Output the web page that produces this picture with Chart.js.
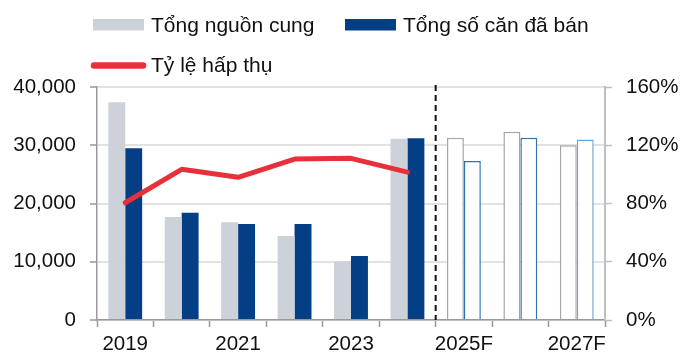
<!DOCTYPE html>
<html>
<head>
<meta charset="utf-8">
<script src="https://cdn.jsdelivr.net/npm/chart.js@4/dist/chart.umd.min.js"></script>
<style>
  html, body { margin: 0; padding: 0; background: #fff; }
  canvas { display: block; }
</style>
</head>
<body>
<canvas id="myChart" width="680" height="354"></canvas>
<script>
const years = ["2019", "2020", "2021", "2022", "2023", "2024", "2025F", "2026F", "2027F"]
const supply = [37400, 17700, 16800, 14400, 10100, 31100, 31300, 32300, 30000]
const sold = [29500, 18400, 16500, 16500, 11000, 31200, 27300, 31300, 31000]
const absorption = [80.5, 103.5, 98, 110.5, 111, 101.5, null, null, null]
const leftTicks = [0, 10000, 20000, 30000, 40000]
const rightTicks = [0, 40, 80, 120, 160]
const firstForecast = 6

const grey = '#cdd1d9'
const navy = '#043e85'
const red = '#e8303a'
const axisFont = { family: 'Liberation Sans, Arial, sans-serif', size: 20.5 }

// actual years filled, forecast years as outlines
const isForecast = years.map((y, i) => i >= firstForecast)
const supplyFill = isForecast.map(f => f ? '#ffffff' : grey)
const supplyBorder = isForecast.map(f => f ? '#a6a6a6' : grey)
const soldFill = isForecast.map(f => f ? '#ffffff' : navy)
const soldBorder = years.map((y, i) => i >= firstForecast ? (i == years.length - 1 ? '#6aa7dc' : '#2f73b5') : navy)
const borderW = isForecast.map(f => f ? 1.5 : 0)

const forecastDivider = {
    id: 'forecastDivider',
    afterDatasetsDraw(chart) {
        const x = chart.scales.x
        const area = chart.chartArea
        const px = (x.getPixelForValue(firstForecast - 1) + x.getPixelForValue(firstForecast)) / 2
        const ctx = chart.ctx
        ctx.save()
        ctx.strokeStyle = '#111'
        ctx.lineWidth = 2
        ctx.setLineDash([6, 4])
        ctx.beginPath()
        ctx.moveTo(px, area.top - 2)
        ctx.lineTo(px, area.bottom)
        ctx.stroke()
        ctx.restore()
    }
}

// legend laid out in two rows like the original
const twoRowLegend = {
    id: 'twoRowLegend',
    afterDraw(chart) {
        const ctx = chart.ctx
        const ds = chart.data.datasets
        const slots = [
            { x: 93, y: 31.5, w: 51 },
            { x: 345, y: 31.5, w: 51 },
            { x: 93, y: 72, w: 51 }
        ]
        ctx.save()
        ctx.font = '21px "Liberation Sans", Arial, sans-serif'
        ctx.textBaseline = 'alphabetic'
        ctx.fillStyle = '#111'
        ds.forEach((d, i) => {
            const s = slots[i]
            if (d.type == 'line') {
                ctx.strokeStyle = d.borderColor
                ctx.lineWidth = 6.5
                ctx.lineCap = 'round'
                ctx.beginPath()
                ctx.moveTo(s.x + 1, s.y - 6.5)
                ctx.lineTo(s.x + s.w - 1, s.y - 6.5)
                ctx.stroke()
            } else {
                ctx.fillStyle = d.legendColor
                ctx.fillRect(s.x, s.y - 12.5, s.w, 11.5)
            }
            ctx.fillStyle = '#111'
            ctx.fillText(d.label, s.x + s.w + 7, s.y)
        })
        ctx.restore()
    }
}

const data = {
    labels: years,
    datasets: [
        {
            label: 'Tổng nguồn cung',
            data: supply,
            backgroundColor: supplyFill,
            borderColor: supplyBorder,
            borderWidth: borderW,
            borderSkipped: 'start',
            legendColor: grey,
            yAxisID: 'y',
            order: 2
        },
        {
            label: 'Tổng số căn đã bán',
            data: sold,
            backgroundColor: soldFill,
            borderColor: soldBorder,
            borderWidth: borderW,
            borderSkipped: 'start',
            legendColor: navy,
            yAxisID: 'y',
            order: 2
        },
        {
            type: 'line',
            label: 'Tỷ lệ hấp thụ',
            data: absorption,
            borderColor: red,
            borderWidth: 5,
            borderCapStyle: 'round',
            borderJoinStyle: 'round',
            pointRadius: 0,
            tension: 0,
            yAxisID: 'y1',
            order: 0
        }
    ]
}

const config = {
    type: 'bar',
    data: data,
    options: {
        responsive: false,
        animation: false,
        categoryPercentage: 0.6,
        barPercentage: 1,
        layout: { padding: { top: 87, left: 0, right: 0, bottom: 0 } },
        plugins: {
            legend: { display: false },
            tooltip: { enabled: false }
        },
        scales: {
            x: {
                offset: true,
                grid: { offset: true, drawOnChartArea: false, tickLength: 7, tickColor: '#999', tickWidth: 1.5 },
                border: { color: '#999', width: 1.5 },
                ticks: {
                    autoSkip: false,
                    maxRotation: 0,
                    padding: 5,
                    color: '#111',
                    font: axisFont,
                    callback: (v, i) => i % 2 == 0 ? years[i] : ''
                },
                afterFit: s => { s.height = 34 }
            },
            y: {
                position: 'left',
                min: 0,
                max: 40000,
                afterBuildTicks: s => { s.ticks = leftTicks.map(v => ({ value: v })) },
                grid: { color: '#e2e2e2', lineWidth: 2, tickLength: 7, tickColor: '#999', tickWidth: 1.5 },
                border: { color: '#999', width: 1.5 },
                ticks: {
                    padding: 14,
                    color: '#111',
                    font: axisFont,
                    callback: v => v.toLocaleString('en-US')
                },
                afterFit: s => { s.width = 97 }
            },
            y1: {
                position: 'right',
                min: 0,
                max: 160,
                afterBuildTicks: s => { s.ticks = rightTicks.map(v => ({ value: v })) },
                grid: { drawOnChartArea: false, tickLength: 7, tickColor: '#bfbfbf', tickWidth: 1.5 },
                border: { color: '#bfbfbf', width: 2 },
                ticks: {
                    padding: 14,
                    color: '#111',
                    font: axisFont,
                    callback: v => v + '%'
                },
                afterFit: s => { s.width = 75 }
            }
        }
    },
    plugins: [forecastDivider, twoRowLegend]
}

var myChart = new Chart(document.getElementById('myChart'), config)
</script>
</body>
</html>
